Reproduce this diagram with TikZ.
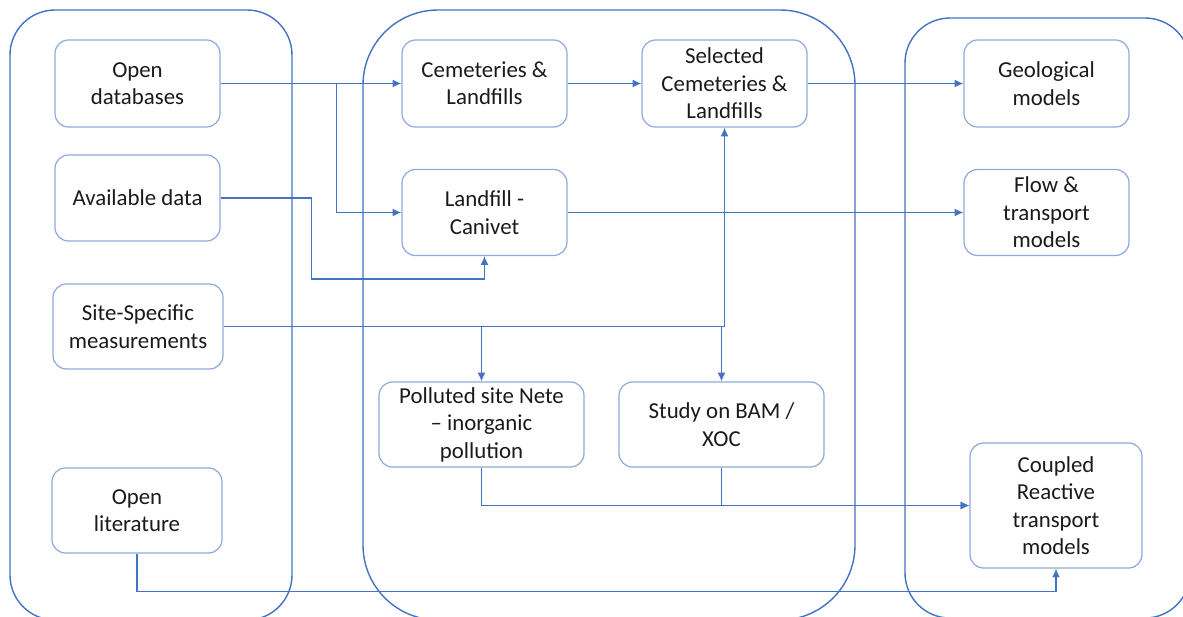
\documentclass[tikz,border=0pt]{standalone}
\usepackage{fontspec}
\setmainfont{Carlito}
\usetikzlibrary{fit,arrows.meta}

\definecolor{groupblue}{RGB}{68,114,196}
\definecolor{boxblue}{RGB}{143,170,220}
\definecolor{inkgray}{RGB}{26,26,26}

\tikzset{
  groupbox/.style={draw=groupblue, line width=0.8pt, inner sep=0pt},
  stepbox/.style={draw=boxblue, line width=0.7pt, rounded corners=0.27cm, inner sep=0pt},
  every label/.style={align=center, text=inkgray, inner sep=0pt, font=\fontsize{13}{15.6}\selectfont},
  link/.style={draw=groupblue, line width=0.65pt, -{Latex[length=5pt, width=4.5pt]}},
}

\begin{document}
\begin{tikzpicture}[x=0.02cm, y=-0.02cm]
        \useasboundingbox (0,0) rectangle (1183,616);
        \clip (0,0) rectangle (1183,616);

        % groups
        \node[groupbox, rounded corners=0.9cm, fit={(10,10) (292,620)}]  (srcgroup) {};
        \node[groupbox, rounded corners=1.5cm, fit={(363,10) (855,620)}] (sitegroup) {};
        \node[groupbox, rounded corners=0.9cm, fit={(905,18) (1190,618)}] (modelgroup) {};

        % data sources
        \node[stepbox, fit={(55,40) (220,127)},   label={center:Open\\databases}]           (opendb) {};
        \node[stepbox, fit={(55,155) (220,241)},  label={center:Available data}]            (avail) {};
        \node[stepbox, fit={(53,284) (223,369)},  label={center:Site-Specific\\measurements}] (site) {};
        \node[stepbox, fit={(52,468) (222,553)},  label={center:Open\\literature}]          (openlit) {};

        % sites
        \node[stepbox, fit={(402,40) (567,127)},  label={center:Cemeteries \&\\Landfills}]   (cem) {};
        \node[stepbox, fit={(642,40) (807,127)},  label={center:Selected\\Cemeteries \&\\Landfills}] (selected) {};
        \node[stepbox, fit={(402,169.5) (567,255.5)}, label={center:Landfill -\\Canivet}]   (canivet) {};
        \node[stepbox, fit={(379,382) (584,467)}, label={center:Polluted site Nete\\-- inorganic\\pollution}] (poll) {};
        \node[stepbox, fit={(619,382) (824,467)}, label={center:Study on BAM /\\XOC}]       (study) {};

        % models
        \node[stepbox, fit={(964,40) (1129,127)},     label={center:Geological\\models}]    (geo) {};
        \node[stepbox, fit={(964,169.5) (1129,255.5)}, label={center:Flow \&\\transport\\models}] (flow) {};
        \node[stepbox, fit={(970,443) (1142,568)},    label={center:Coupled\\Reactive\\transport\\models}] (coupled) {};

        \draw [link]  (opendb.east)--(cem.west);
        \draw [link]  (opendb.east)--++(116,0) |- (canivet.west);
        \draw [link]  (cem.east)--(selected.west);
        \draw [link]  (selected.east)--(geo.west);
        \draw [link]  (avail.east)--++(91,0)--++(0,81) -| (canivet.south);
        \draw [link]  (canivet.east)--(flow.west);
        \draw [link]  (site.east) -| (selected.south);
        \draw [link]  (poll.north |- site.east)--(poll.north);
        \draw [link]  (study.north |- site.east)--(study.north);
        \draw [link]  (poll.south) |- (coupled.west);
        \draw [link]  (study.south) |- (coupled.west);
        \draw [link]  (openlit.south)--++(0,38) -| (coupled.south);
    \end{tikzpicture}
\end{document}
